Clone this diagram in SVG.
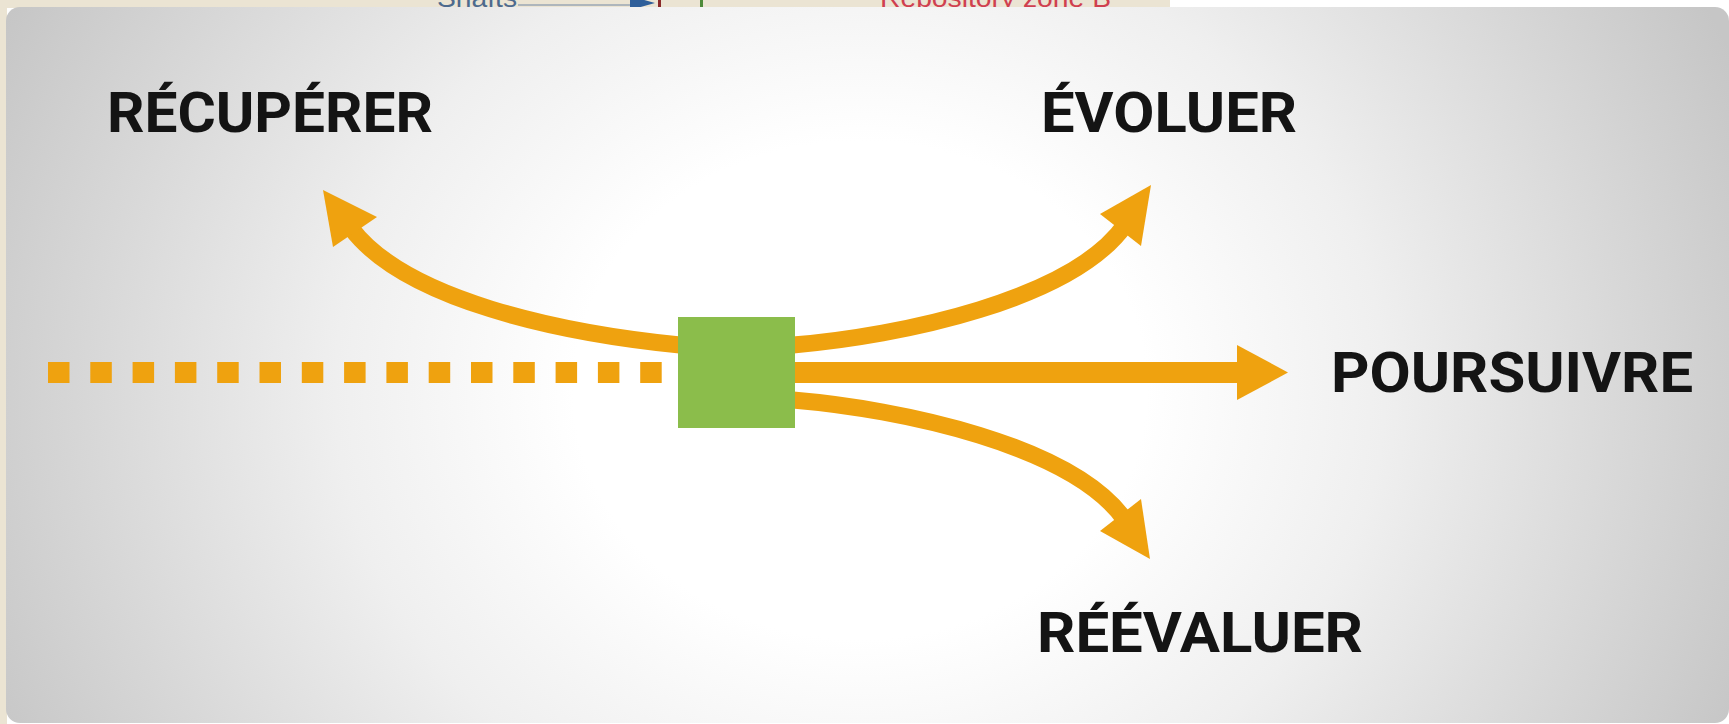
<svg xmlns="http://www.w3.org/2000/svg" width="1729" height="724" viewBox="0 0 1729 724">
  <style>
    .lbl { font-family: Roboto, "Liberation Sans", Arial, sans-serif; font-weight: 700; font-size: 56px; fill: #141414; }
    .shaft { fill: none; stroke: #efa20f; stroke-width: 17; stroke-linecap: butt; }
    .head { fill: #efa20f; }
    .frag { font-family: "Liberation Sans", Arial, sans-serif; font-size: 26px; }
  </style>
  <defs>
    <radialGradient id="bg" gradientUnits="userSpaceOnUse" cx="860" cy="390" r="830" gradientTransform="translate(860 390) scale(1.15 1) translate(-860 -390)">
      <stop offset="0" stop-color="#ffffff"/>
      <stop offset="0.3" stop-color="#ffffff"/>
      <stop offset="0.55" stop-color="#efefef"/>
      <stop offset="0.8" stop-color="#d8d8d8"/>
      <stop offset="1" stop-color="#c6c6c6"/>
    </radialGradient>
    <clipPath id="strip"><rect x="0" y="0" width="1729" height="7"/></clipPath>
  </defs>

  <!-- page background and cropped strip above the picture -->
  <rect x="0" y="0" width="1729" height="724" fill="#ffffff"/>
  <rect x="0" y="0" width="1170" height="8" fill="#ebe4d3"/>
  <rect x="0" y="0" width="7" height="724" fill="#ebe4d3"/>
  <g id="strip-fragments" clip-path="url(#strip)">
    <text class="frag" x="437" y="7" fill="#4d6a8e" textLength="80" lengthAdjust="spacingAndGlyphs">Shafts</text>
    <line x1="518" y1="5" x2="630" y2="5" stroke="#9aa7b5" stroke-width="1.5"/>
    <polygon points="630,-4 655,3 630,10" fill="#2f5f9a"/>
    <rect x="658" y="0" width="3" height="7" fill="#8a2a2a"/>
    <rect x="700" y="0" width="3" height="7" fill="#4e8a3a"/>
    <text class="frag" x="880" y="7" fill="#d0404f" textLength="231" lengthAdjust="spacingAndGlyphs">Repository zone B</text>
  </g>

  <!-- panel -->
  <rect id="panel" x="6" y="7" width="1723" height="716" rx="14" ry="14" fill="url(#bg)"/>

  <!-- connectors -->
  <g id="connectors">
    <line id="past" x1="48" y1="372.5" x2="662" y2="372.5" stroke="#efa20f" stroke-width="21" stroke-dasharray="21.5 20.8"/>
    <g id="to-recuperer">
      <path class="shaft" d="M680,345 C560,333 405,300 351,228"/>
      <polygon class="head" points="323,190 377,217 333,247"/>
    </g>
    <g id="to-evoluer">
      <path class="shaft" d="M793,345 C900,336 1072,300 1125,225"/>
      <polygon class="head" points="1151,185 1100,214 1141,246"/>
    </g>
    <g id="to-poursuivre">
      <line x1="793" y1="372.5" x2="1240" y2="372.5" stroke="#efa20f" stroke-width="21"/>
      <polygon class="head" points="1237,345 1288,372.5 1237,400"/>
    </g>
    <g id="to-reevaluer">
      <path class="shaft" d="M793,400 C900,409 1072,445 1125,520"/>
      <polygon class="head" points="1150,559 1100,531 1141,499"/>
    </g>
  </g>

  <!-- nodes -->
  <g id="decision">
    <rect x="678" y="317" width="117" height="111" fill="#8bbd4b"/>
  </g>
  <g id="recuperer">
    <text class="lbl" x="107" y="132" textLength="326" lengthAdjust="spacingAndGlyphs">RÉCUPÉRER</text>
  </g>
  <g id="evoluer">
    <text class="lbl" x="1041" y="132" textLength="256" lengthAdjust="spacingAndGlyphs">ÉVOLUER</text>
  </g>
  <g id="poursuivre">
    <text class="lbl" x="1331" y="392" textLength="362" lengthAdjust="spacingAndGlyphs">POURSUIVRE</text>
  </g>
  <g id="reevaluer">
    <text class="lbl" x="1037" y="652" textLength="326" lengthAdjust="spacingAndGlyphs">RÉÉVALUER</text>
  </g>
</svg>
